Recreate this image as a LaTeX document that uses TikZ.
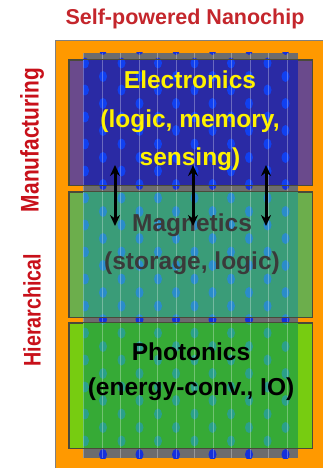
\documentclass[tikz,border=0pt]{standalone}
\usepackage{fontspec}
\setmainfont{Liberation Sans}
\newfontfamily\narrowsans[FakeStretch=0.82]{Liberation Sans}
\usetikzlibrary{arrows.meta}
\definecolor{chiporange}{HTML}{FF9900}
\definecolor{titlered}{HTML}{C4262C}
\definecolor{sidered}{HTML}{C8101A}
\definecolor{patgray}{HTML}{6C6C6E}
\definecolor{patdot}{HTML}{1430DC}
\definecolor{elecout}{HTML}{6A4A8C}
\definecolor{elecin}{HTML}{2A2AA4}
\definecolor{elecdot}{HTML}{1040F0}
\definecolor{magout}{HTML}{6CAE4C}
\definecolor{magin}{HTML}{3A9C78}
\definecolor{magdot}{HTML}{2A8CCA}
\definecolor{photout}{HTML}{77CC11}
\definecolor{photin}{HTML}{36AA36}
\definecolor{photdot}{HTML}{2AA08A}
\definecolor{magtext}{HTML}{3A3A3A}
\definecolor{boxline}{HTML}{4A4A3A}
\newcommand\dotfield[1]{%
  \foreach \k in {-6,...,9}{%
    \foreach \j in {0,...,6}{%
      \fill[#1] ({85+36.5*\j},{198+27*\k}) ellipse (4pt and 5.5pt);
      \fill[#1] ({103+36.5*\j},{211.5+27*\k}) ellipse (4pt and 5.5pt);
    }%
  }%
}
\begin{document}
\begin{tikzpicture}[x=1pt,y=-1pt,
  layerbox/.style={draw=boxline,line width=0.8pt,minimum width=243pt,minimum height=125pt,inner sep=0pt},
  layertext/.style={font=\fontsize{24.5}{38.5}\selectfont\bfseries,align=center},
  sidetext/.style={text=sidered,rotate=90},
  dblarrow/.style={line width=3pt,{Stealth[length=11pt,width=10pt]}-{Stealth[length=11pt,width=10pt]}}]
\useasboundingbox (0,0) rectangle (322,468);
\fill[white] (0,0) rectangle (322,468);
% title and side labels
\node[font=\fontsize{21.5}{26}\selectfont\bfseries,text=titlered] (title) at (185,19) {Self-powered Nanochip};
\node[sidetext,font=\narrowsans\fontsize{25.5}{30}\selectfont\bfseries] (manu) at (32,140) {Manufacturing};
\node[sidetext,font=\narrowsans\fontsize{24}{30}\selectfont\bfseries] (hier) at (32,310) {Hierarchical};
% chip
\draw[fill=chiporange,draw=gray,line width=0.8pt] (55,40) rectangle (340,490);
% pattern
\begin{scope}
  \clip (83,53) rectangle (298,458);
  \fill[patgray] (83,53) rectangle (298,458);
  \dotfield{patdot}
\end{scope}
% layer boxes (outer parts)
\node[layerbox,fill=elecout] (elec) at (190.5,122.5) {};
\node[layerbox,fill=magout] (mag) at (190.5,254.5) {};
\node[layerbox,fill=photout] (phot) at (190.5,385.5) {};
% inner parts over the pattern
\begin{scope}
  \clip (83,60) rectangle (298,185);
  \fill[elecin] (83,60) rectangle (298,185);
  \dotfield{elecdot}
\end{scope}
\begin{scope}
  \clip (83,192) rectangle (298,317);
  \fill[magin] (83,192) rectangle (298,317);
  \dotfield{magdot}
\end{scope}
\begin{scope}
  \clip (83,323) rectangle (298,448);
  \fill[photin] (83,323) rectangle (298,448);
  \dotfield{photdot}
\end{scope}
% faint vertical lines of the pattern
\foreach \i in {0,...,11}{
  \draw[white,opacity=0.3,line width=0.7pt] ({83.5+18.5*\i},53) -- ({83.5+18.5*\i},458);
}
% outlines again on top
\draw[boxline,line width=0.8pt] (elec.north west) rectangle (elec.south east);
\draw[boxline,line width=0.8pt] (mag.north west) rectangle (mag.south east);
\draw[boxline,line width=0.8pt] (phot.north west) rectangle (phot.south east);
% texts
\node[layertext,text=yellow] (electxt) at (190,121) {Electronics\\(logic, memory,\\sensing)};
\node[layertext,text=magtext] (magtxt) at (192,244) {Magnetics\\(storage, logic)};
\node[layertext,text=black,font=\fontsize{24.5}{35}\selectfont\bfseries] (phottxt) at (191,372) {Photonics\\(energy-conv., IO)};
% arrows
\coordinate (a1t) at (115,165); \coordinate (a1b) at (115,226);
\coordinate (a2t) at (193,165); \coordinate (a2b) at (193,226);
\coordinate (a3t) at (266,165); \coordinate (a3b) at (266,226);
\draw[dblarrow] (a1t) -- (a1b);
\draw[dblarrow] (a2t) -- (a2b);
\draw[dblarrow] (a3t) -- (a3b);
\end{tikzpicture}
\end{document}
